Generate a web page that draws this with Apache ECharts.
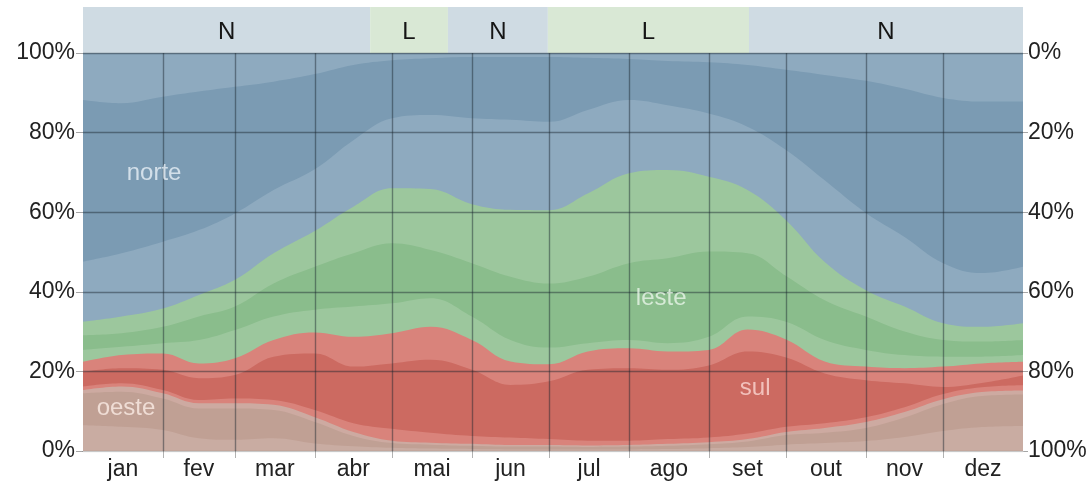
<!DOCTYPE html>
<html>
<head>
<meta charset="utf-8">
<script src="https://cdn.jsdelivr.net/npm/echarts@6/dist/echarts.min.js"></script>
<style>
html,body{margin:0;padding:0;background:#fff;}
#c{width:1092px;height:486px;}
</style>
</head>
<body>
<div id="c"></div>
<script>
// day of year for each sample
const days = [0,15,31,45,59,74,90,105,120,135,151,166,181,196,212,227,243,258,273,288,304,319,334,349,365];

// cumulative upper edges (%) of each band
const nwBlueTop  = [100,100,100,100,100,100,100,100,100,100,100,100,100,100,100,100,100,100,100,100,100,100,100,100,100];
const nCoreTop   = [88.2,87.4,89.0,90.3,91.5,92.8,94.7,97.0,98.2,98.7,99.0,99.0,99.0,98.8,98.5,98.0,97.7,97.0,95.8,94.5,93.0,91.0,88.7,87.8,87.8];
const neBlueTop  = [47.6,49.7,52.6,55.5,59.7,65.6,70.8,78.1,83.6,84.4,83.6,83.2,82.7,85.7,88.2,86.9,84.8,81.5,75.6,68.0,59.8,53.8,47.2,44.7,46.3];
const neGreenTop = [32.5,33.8,35.8,39.2,43.0,49.7,55.3,61.4,66.0,65.8,62.0,60.6,60.5,64.7,69.8,70.6,68.9,65.6,58.0,47.5,40.4,36.3,32.1,31.2,32.1];
const eCoreTop   = [29.1,29.6,31.2,33.8,36.3,42.1,46.3,49.7,52.2,50.5,47.2,43.8,42.1,43.8,47.2,48.4,50.1,49.7,44.0,37.9,33.8,30.0,27.9,27.5,27.9];
const seGreenTop = [25.4,26.2,27.1,27.9,30.4,33.8,35.5,36.3,37.1,38.4,33.8,27.9,26.0,27.1,27.9,27.1,28.7,33.8,32.5,27.9,25.4,24.1,23.7,23.7,24.1];
const seRedTop   = [22.4,24.1,24.5,22.0,23.3,27.9,29.8,28.7,29.6,31.2,27.9,22.5,21.8,25.0,25.8,25.0,25.4,30.5,28.0,22.5,21.2,20.8,21.2,22.0,22.4];
const sCoreTop   = [19.9,20.8,20.4,18.3,19.1,23.7,24.5,21.2,22.0,22.9,20.4,16.6,17.5,20.4,20.8,20.4,21.5,25.0,23.5,19.5,17.8,17.0,16.1,17.1,19.0];
const swRedTop   = [16.2,17.0,15.3,12.8,13.2,12.8,10.3,7.0,5.6,4.6,3.8,3.4,3.0,2.6,2.6,3.0,3.4,4.4,6.1,7.0,8.5,11.0,14.3,16.0,16.5];
const swTanTop   = [15.3,16.2,14.5,12.0,12.0,11.6,8.5,4.8,2.6,2.1,1.8,1.5,1.5,1.4,1.5,1.8,2.2,3.0,4.8,5.8,7.3,9.8,13.0,14.8,15.2];
const wCoreTop   = [14.5,14.9,13.2,10.7,10.7,10.3,7.3,3.8,2.0,1.6,1.3,1.1,1.1,1.0,1.1,1.3,1.7,2.4,4.0,4.6,5.8,8.4,11.8,13.8,14.2];
const nwTanTop   = [6.5,6.1,5.3,3.2,2.8,3.2,1.9,1.2,0.8,0.6,0.5,0.4,0.4,0.4,0.4,0.5,0.7,1.0,1.6,2.0,2.5,3.5,5.0,6.0,6.3];

// months
const monthNames = ['jan','fev','mar','abr','mai','jun','jul','ago','set','out','nov','dez'];
const monthBounds = [31,59,90,120,151,181,212,243,273,304,334];
const monthCenters = [15.5,45,74.5,105,135.5,166,196.5,227.5,258,288.5,319,349.5];

// predominant direction strip
const bandStart = [0,111.5,141.7,180.5,258.6];
const bandEnd   = [111.5,141.7,180.5,258.6,365];
const bandLabel = ['N','L','N','L','N'];

// in-chart labels
const labelText = ['norte','leste','sul','oeste'];
const labelDay  = [27.6,224.5,261,16.7];
const labelPct  = [69.8,38.4,15.8,10.6];

const FONT = '"Liberation Sans", Arial, sans-serif';
const FS = 23;

const layers = [
  {name:'noroeste-n', data: nwBlueTop,  color:'#8eaabf'},
  {name:'norte',      data: nCoreTop,   color:'#7b9bb3'},
  {name:'nordeste-n', data: neBlueTop,  color:'#8eaabf'},
  {name:'nordeste-l', data: neGreenTop, color:'#9cc79d'},
  {name:'leste',      data: eCoreTop,   color:'#8abd8c'},
  {name:'sudeste-l',  data: seGreenTop, color:'#9cc79d'},
  {name:'sudeste-s',  data: seRedTop,   color:'#d9837b'},
  {name:'sul',        data: sCoreTop,   color:'#cc6a61'},
  {name:'sudoeste-s', data: swRedTop,   color:'#d9837b'},
  {name:'sudoeste-o', data: swTanTop,   color:'#cdaaa1'},
  {name:'oeste',      data: wCoreTop,   color:'#c0a094'},
  {name:'noroeste-o', data: nwTanTop,   color:'#c9aca2'}
];

const GRID_LINE = 'rgba(25,35,45,0.45)';

const series = layers.map((l, i) => ({
  type:'line', name:l.name, xAxisIndex:0, yAxisIndex:0,
  data: days.map((d, k) => [d, l.data[k]]),
  smooth:0.4, symbol:'none', showSymbol:false, silent:true,
  lineStyle:{width:0}, areaStyle:{color:l.color, opacity:1, origin:'start'},
  z: 2
}));

// vertical month gridlines on top of areas
series.push({
  type:'line', xAxisIndex:0, yAxisIndex:0, data:[], silent:true, z:5,
  markLine:{
    silent:true, symbol:'none', animation:false,
    label:{show:false},
    lineStyle:{color:GRID_LINE, width:1.4, type:'solid'},
    data: monthBounds.map(v => ({xAxis:v}))
  }
});

// in-chart labels
series.push({
  type:'scatter', xAxisIndex:0, yAxisIndex:0, symbolSize:0, silent:true, z:6,
  data: labelText.map((t, i) => ({
    value:[labelDay[i], labelPct[i]], name:t,
    label:{color: ['rgba(238,245,250,0.95)','rgba(238,248,238,0.95)','rgba(252,218,214,0.97)','rgba(252,238,232,0.97)'][i]}
  })),
  label:{show:true, position:'inside', formatter: p => p.name, fontFamily:FONT, fontSize:24}
});

// direction strip
series.push({
  type:'custom', xAxisIndex:1, yAxisIndex:2, silent:true,
  data: bandStart.map((s, i) => [s, bandEnd[i], i]),
  renderItem: (params, api) => {
    const i = params.dataIndex;
    const p0 = api.coord([api.value(0), 1]);
    const p1 = api.coord([api.value(1), 0]);
    return {type:'group', children:[
      {type:'rect', shape:{x:p0[0], y:p0[1], width:p1[0]-p0[0], height:p1[1]-p0[1]},
       style:{fill: bandLabel[i] === 'N' ? '#cfdbe3' : '#d9e8d5'}},
      {type:'text', x:(p0[0]+p1[0])/2, y:(p0[1]+p1[1])/2 + 2,
       style:{text: bandLabel[i], fill:'#151515', font:'24px ' + FONT, align:'center', verticalAlign:'middle'}}
    ]};
  }
});

const chart = echarts.init(document.getElementById('c'), null, {renderer:'canvas'});
chart.setOption({
  animation:false,
  backgroundColor:'#ffffff',
  grid:[
    {left:83, right:69, top:53, bottom:35},
    {left:83, right:69, top:7, height:46}
  ],
  xAxis:[
    {type:'value', gridIndex:0, min:0, max:365, z:4,
     axisLine:{show:true, lineStyle:{color:'#c8c8c8', width:1}},
     axisTick:{show:true, length:7, lineStyle:{color:'rgba(0,0,0,0.3)'}, customValues: monthBounds},
     axisLabel:{show:true, customValues: monthCenters, margin:7, color:'#222', fontFamily:FONT, fontSize:FS,
       formatter: v => monthNames[monthCenters.indexOf(v)] || ''},
     splitLine:{show:false}},
    {type:'value', gridIndex:1, min:0, max:365, show:false}
  ],
  yAxis:[
    {type:'value', gridIndex:0, min:0, max:100, interval:20, z:4,
     axisLine:{show:false},
     axisTick:{show:true, length:7, lineStyle:{color:'rgba(0,0,0,0.35)'}},
     axisLabel:{formatter:'{value}%', margin:8, color:'#222', fontFamily:FONT, fontSize:FS},
     splitLine:{show:true, lineStyle:{color:['rgba(0,0,0,0.12)',GRID_LINE,GRID_LINE,GRID_LINE,GRID_LINE,GRID_LINE], width:1.4}}},
    {type:'value', gridIndex:0, min:0, max:100, interval:20, inverse:true, position:'right',
     axisLine:{show:false},
     axisTick:{show:true, length:5, lineStyle:{color:'rgba(0,0,0,0.35)'}},
     axisLabel:{formatter:'{value}%', margin:5, color:'#222', fontFamily:FONT, fontSize:FS},
     splitLine:{show:false}},
    {type:'value', gridIndex:1, min:0, max:1, show:false}
  ],
  series: series
});
</script>
</body>
</html>
